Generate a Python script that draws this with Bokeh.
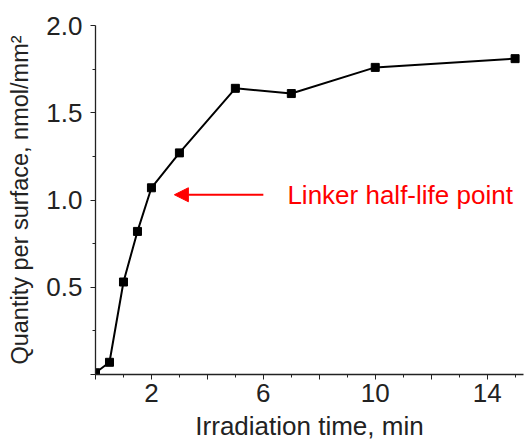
from bokeh.plotting import figure
from bokeh.models import Range1d, FixedTicker, Arrow, NormalHead, Label, ColumnDataSource
from bokeh.embed import file_html
from bokeh.resources import INLINE

# Data
time_min = [0, 0.5, 1, 1.5, 2, 3, 5, 7, 10, 15]
quantity = [0.01, 0.07, 0.53, 0.82, 1.07, 1.27, 1.64, 1.61, 1.76, 1.81]

x_major_ticks = [0, 2, 4, 6, 8, 10, 12, 14]
x_tick_labels = {0: "", 2: "2", 4: "", 6: "6", 8: "", 10: "10", 12: "", 14: "14"}
x_minor_ticks = [1, 3, 5, 7, 9, 11, 13, 15]
y_major_ticks = [0, 0.5, 1.0, 1.5, 2.0]
y_tick_labels = {0: "", 0.5: "0.5", 1.0: "1.0", 1.5: "1.5", 2.0: "2.0"}
y_minor_ticks = [0.25, 0.75, 1.25, 1.75]

annotation_text = "Linker half-life point"
arrow_from = (6.0, 1.03)
arrow_to = (2.82, 1.03)
label_pos = (6.86, 1.03)

FONT = "Liberation Sans"

p = figure(width=524, height=443, output_backend="svg", toolbar_location=None,
           x_range=Range1d(0, 15.3), y_range=Range1d(0, 2.0),
           min_border_left=95, min_border_right=1, min_border_top=25, min_border_bottom=69)
p.outline_line_color = None
p.grid.visible = False
p.background_fill_color = "white"
p.border_fill_color = "white"

src = ColumnDataSource(dict(x=time_min, y=quantity))
p.line("x", "y", source=src, line_color="black", line_width=2)
p.scatter("x", "y", source=src, marker="square", size=8, fill_color="black", line_color="black")

for ax in (p.xaxis[0], p.yaxis[0]):
    ax.axis_line_color = "#222222"
    ax.axis_line_width = 1.3
    ax.major_tick_line_color = "#222222"
    ax.minor_tick_line_color = "#222222"
    ax.major_tick_in = 0
    ax.major_tick_out = 5
    ax.minor_tick_in = 0
    ax.minor_tick_out = 3
    ax.major_label_text_font = FONT
    ax.major_label_text_font_size = "26px"
    ax.major_label_text_color = "#222222"
    ax.axis_label_text_font = FONT
    ax.axis_label_text_font_style = "normal"
    ax.axis_label_text_color = "#222222"

p.xaxis[0].ticker = FixedTicker(ticks=x_major_ticks, minor_ticks=x_minor_ticks)
p.xaxis[0].major_label_overrides = x_tick_labels
p.xaxis[0].axis_label = "Irradiation time, min"
p.xaxis[0].axis_label_text_font_size = "26px"
p.xaxis[0].major_label_standoff = 4
p.xaxis[0].axis_label_standoff = 6

p.yaxis[0].ticker = FixedTicker(ticks=y_major_ticks, minor_ticks=y_minor_ticks)
p.yaxis[0].major_label_overrides = y_tick_labels
p.yaxis[0].axis_label = "Quantity per surface, nmol/mm²"
p.yaxis[0].axis_label_text_font_size = "23.5px"
p.yaxis[0].major_label_standoff = 8
p.yaxis[0].axis_label_standoff = 10

arrow = Arrow(end=NormalHead(size=14, fill_color="red", line_color="red"),
              x_start=arrow_from[0], y_start=arrow_from[1],
              x_end=arrow_to[0], y_end=arrow_to[1],
              line_color="red", line_width=2)
p.add_layout(arrow)

lbl = Label(x=label_pos[0], y=label_pos[1], text=annotation_text, text_color="red",
            text_font=FONT, text_font_size="26px", text_baseline="middle", text_align="left")
p.add_layout(lbl)

open("out.html", "w").write(file_html(p, INLINE))
